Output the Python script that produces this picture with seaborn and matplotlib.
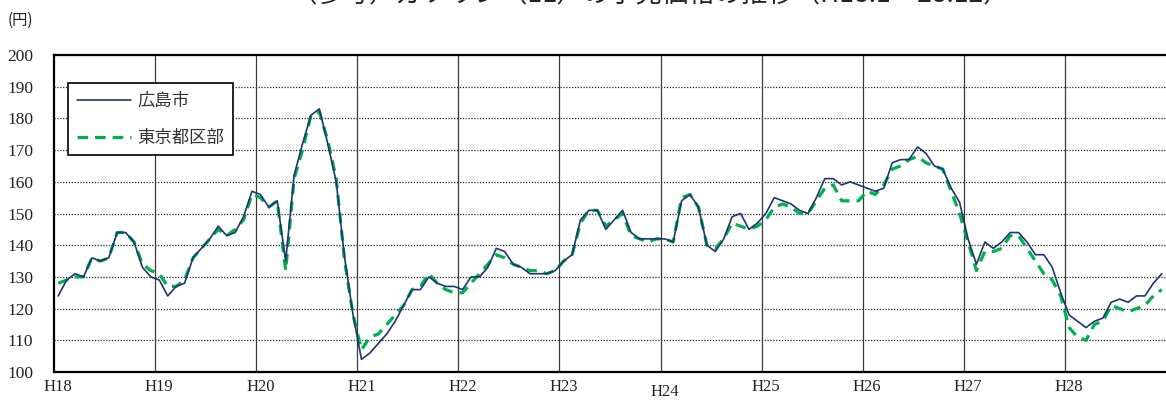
import numpy as np
import pandas as pd
import matplotlib
matplotlib.use("Agg")
import matplotlib.pyplot as plt
import matplotlib.transforms as mtransforms
import seaborn as sns

# ---- data (monthly, H18.1 - H28.12) ----
year_labels = ["H18", "H19", "H20", "H21", "H22", "H23", "H24", "H25", "H26", "H27", "H28"]
series_names = ["広島市", "東京都区部"]

hiroshima = [
    124, 129, 131, 130, 136, 135, 136, 144, 144, 141, 133, 130,   # H18
    129, 124, 127, 128, 136, 139, 142, 146, 143, 144, 149, 157,   # H19
    156, 152, 154, 135, 162, 172, 181, 183, 172, 160, 136, 118,   # H20
    104, 106, 109, 112, 116, 121, 126, 126, 130, 128, 127, 127,   # H21
    126, 130, 130, 133, 139, 138, 134, 133, 131, 131, 131, 132,   # H22
    135, 137, 148, 151, 151, 145, 148, 151, 144, 142, 142, 142,   # H23
    142, 141, 154, 156, 152, 140, 138, 142, 149, 150, 145, 147,   # H24
    150, 155, 154, 153, 151, 150, 155, 161, 161, 159, 160, 159,   # H25
    158, 157, 158, 166, 167, 167, 171, 169, 165, 164, 158, 153.5, # H26
    142, 134, 141, 139, 141, 144, 144, 141, 137, 137, 133, 125,   # H27
    118, 116, 114, 116, 117, 122, 123, 122, 124, 124, 128, 131,   # H28
]
tokyo = [
    128, 129, 130, 130, 136, 135, 136, 144, 144, 141, 134, 132,   # H18
    131, 127, 127, 129, 136, 139, 142, 145, 143, 145, 148, 156,   # H19
    155, 152, 154, 132, 161, 170, 181, 182, 173, 161, 135, 118,   # H20
    107, 111, 112, 115, 118, 121, 126, 127, 131, 128, 126, 125,   # H21
    125, 128, 131, 134, 137, 136, 134, 133, 132, 132, 131, 132,   # H22
    135, 137, 147, 151, 151, 146, 148, 150, 143, 142, 141, 142,   # H23
    142, 141, 155, 156, 152, 140, 139, 142, 147, 146, 145, 146,   # H24
    148, 152, 153, 152, 150, 150, 154, 158, 159, 154, 154, 154,   # H25
    157, 156, 159, 164, 165, 167, 168, 166, 165, 164, 157, 150,   # H26
    141, 132, 138, 138, 139, 143, 143, 139, 135, 131, 129, 124,   # H27
    114, 111, 110, 115, 116, 121, 120, 119, 120, 121, 124, 126,   # H28
]
y_ticks = [100, 110, 120, 130, 140, 150, 160, 170, 180, 190, 200]

title_text = "（参考）ガソリン（1L）の小売価格の推移（H18.1～28.12）"
unit_text = "(円)"

# ---- build frame ----
n = len(hiroshima)
month_pos = np.arange(n) + 0.5   # points centred in each month category
df = pd.DataFrame({"pos": month_pos, "広島市": hiroshima, "東京都区部": tokyo})

sns.set_theme(style="white")
plt.rcParams["font.family"] = ["Noto Sans CJK JP", "DejaVu Sans"]

W, H = 1166, 403
fig = plt.figure(figsize=(W / 100, H / 100), dpi=100)
ax = fig.add_axes([54 / W, (H - 372) / H, 1112 / W, 317 / H])

navy = "#1f3473"
green = "#00b050"

sns.lineplot(data=df, x="pos", y="広島市", ax=ax, color=navy, linewidth=1.2,
             label=series_names[0], zorder=4)
sns.lineplot(data=df, x="pos", y="東京都区部", ax=ax, color=green, linewidth=2.3,
             linestyle=(0, (3.3, 2.2)), label=series_names[1], zorder=3)

ax.set_xlim(0, n)
ax.set_ylim(100, 200)
ax.set_xlabel("")
ax.set_ylabel("")

# horizontal dotted gridlines
ax.set_yticks(y_ticks)
ax.yaxis.grid(True, color="#222222", linestyle=(0, (1, 1.3)), linewidth=0.9)
ax.set_axisbelow(True)

# vertical year-boundary lines
year_starts = np.arange(0, n, 12)
for xs in year_starts[1:]:
    ax.axvline(xs, color="#3a3a3a", linewidth=0.9, zorder=1)

# x tick labels at first month of each year
ax.set_xticks(year_starts + 0.5)
ax.set_xticklabels(year_labels)
ax.tick_params(axis="x", length=0, pad=5, labelsize=12)
ax.tick_params(axis="y", length=0, pad=15, labelsize=12.5)
for lbl in ax.get_xticklabels() + ax.get_yticklabels():
    lbl.set_fontfamily(["Liberation Serif"])
    lbl.set_color("#222222")

for lbl in ax.get_xticklabels():
    if lbl.get_text() == "H24":
        lbl.set_transform(lbl.get_transform() +
                          mtransforms.ScaledTranslation(0, -5 / 100, fig.dpi_scale_trans))

for side in ["top", "left", "bottom"]:
    ax.spines[side].set_visible(True)
    ax.spines[side].set_color("black")
    ax.spines[side].set_linewidth(1.6)
ax.spines["right"].set_visible(False)

leg = ax.legend(loc="upper left", bbox_to_anchor=(0.0126, 0.912), frameon=True,
                fancybox=False, edgecolor="black", framealpha=1,
                fontsize=12.5, handlelength=3.15, handletextpad=0.35,
                labelspacing=1.1, borderpad=0.5, borderaxespad=0)
leg.get_frame().set_linewidth(1.2)
for t in leg.get_texts():
    t.set_color("#333333")

fig.text(650 / W, 1 - 8 / H, title_text, ha="center", va="bottom", fontsize=19,
         color="#222222")
fig.text(8 / W, 1 - 20 / H, unit_text, ha="left", va="center", fontsize=11,
         color="#222222")

fig.savefig("out.png", dpi=100)
